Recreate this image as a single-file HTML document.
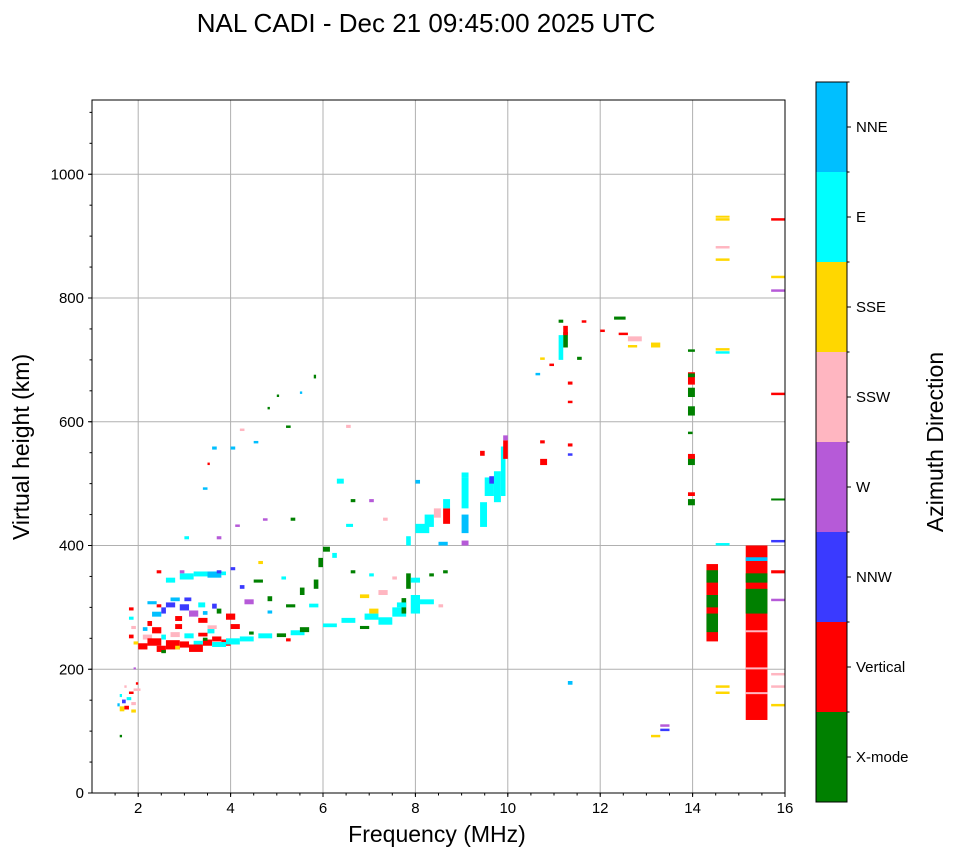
<!DOCTYPE html>
<html><head><meta charset="utf-8"><style>
body{margin:0;background:#fff;}
svg text{font-family:"Liberation Sans","DejaVu Sans",sans-serif;}
</style></head><body>
<svg id="chart" width="958" height="857" viewBox="0 0 958 857">
<text x="426" y="32" font-size="26" text-anchor="middle">NAL CADI - Dec 21 09:45:00 2025 UTC</text>
<g id="grid"></g>
<g id="marks"></g>
<g id="axes"></g>
<text x="437" y="842" font-size="23" text-anchor="middle">Frequency (MHz)</text>
<text transform="translate(29,447) rotate(-90)" font-size="23" text-anchor="middle">Virtual height (km)</text>
<g id="cbar"></g>
<text transform="translate(943,442) rotate(-90)" font-size="23" text-anchor="middle">Azimuth Direction</text>
</svg>
<script>
const directions=["X-mode","Vertical","NNW","W","SSW","SSE","E","NNE"];
const dirColors=["#008000","#ff0000","#3a3aff","#b65ad8","#ffb6c1","#ffd700","#00ffff","#00bfff"];
const xTicks=[2,4,6,8,10,12,14,16];
const yTicks=[0,200,400,600,800,1000];
// echoes: [freq MHz, height km, width MHz, height km span, direction index]
const echoes=[
[1.55,140,0.05,5,7],[1.6,132,0.1,8,5],[1.7,135,0.1,6,1],[1.65,145,0.08,6,2],[1.75,150,0.1,5,6],[1.85,142,0.1,5,4],[1.6,155,0.05,5,6],[1.8,160,0.1,4,1],[1.9,165,0.15,4,4],[1.7,170,0.05,4,4],[1.85,130,0.1,5,5],[1.6,90,0.05,4,0],[1.9,200,0.05,3,3],[1.95,175,0.05,4,1],
[1.8,250,0.1,6,1],[1.85,265,0.1,5,4],[1.8,280,0.1,5,6],[1.8,295,0.1,5,1],[1.9,240,0.1,5,5],
[2.0,232,0.2,10,1],[2.1,248,0.2,8,4],[2.2,238,0.3,12,1],[2.4,228,0.2,10,1],[2.6,232,0.3,15,1],[2.9,235,0.2,10,1],[3.1,228,0.3,12,1],[3.4,238,0.2,10,1],[3.6,245,0.2,8,1],[3.8,238,0.2,10,1],[2.3,258,0.2,10,1],[2.7,252,0.2,8,4],[2.5,248,0.1,8,6],[3.0,250,0.2,8,6],[3.3,253,0.2,6,1],[3.5,258,0.15,8,6],[2.8,265,0.15,8,1],[2.2,270,0.1,8,1],
[2.8,232,0.1,6,5],[2.5,226,0.1,5,0],[3.2,240,0.2,6,6],[3.6,236,0.3,8,6],[3.9,240,0.3,10,6],[3.4,246,0.1,5,0],[2.1,262,0.1,6,7],
[2.3,285,0.2,8,7],[2.5,290,0.1,10,2],[2.6,300,0.2,8,2],[2.9,295,0.2,10,2],[3.1,285,0.2,10,3],[2.8,278,0.15,8,1],[3.3,275,0.2,8,1],[3.5,265,0.2,6,4],[2.7,310,0.2,6,7],[3.0,310,0.15,6,2],[3.3,300,0.15,8,6],[2.2,305,0.2,5,7],[3.6,298,0.1,8,2],[2.4,300,0.1,5,1],[3.4,288,0.1,6,7],
[2.6,340,0.2,8,6],[2.9,345,0.3,10,6],[3.2,350,0.3,8,6],[3.5,348,0.3,10,7],[3.8,352,0.1,6,6],[2.4,355,0.1,5,1],[3.7,355,0.1,5,2],[2.9,355,0.1,5,3],
[3.7,290,0.1,8,0],[3.9,280,0.2,10,1],[4.2,245,0.3,8,6],[4.6,250,0.3,8,6],[5.0,252,0.2,6,0],[5.3,255,0.3,8,6],[5.5,260,0.2,8,0],[5.2,245,0.1,5,1],[4.0,265,0.2,8,1],[4.4,256,0.1,5,0],
[4.3,305,0.2,8,3],[4.2,330,0.1,6,2],[4.0,360,0.1,5,2],[4.5,340,0.2,5,0],[4.8,290,0.1,5,7],[4.8,310,0.1,8,0],[5.2,300,0.2,5,0],[5.5,320,0.1,12,0],[5.7,300,0.2,6,6],[5.8,330,0.1,15,0],[5.9,365,0.1,15,0],[6.0,390,0.15,8,0],[6.2,380,0.1,8,6],[5.1,345,0.1,5,6],[4.6,370,0.1,5,5],
[6.0,268,0.3,6,6],[6.4,275,0.3,8,6],[6.8,265,0.2,5,0],[6.9,280,0.3,10,6],[7.2,272,0.3,12,6],[7.5,285,0.3,15,6],[7.7,290,0.1,25,0],[7.9,290,0.2,30,6],[8.1,305,0.3,8,6],[7.8,330,0.1,25,0],[7.2,320,0.2,8,4],[6.8,315,0.2,6,5],[7.0,290,0.2,8,5],[7.6,300,0.2,8,6],
[6.6,355,0.1,5,0],[7.0,350,0.1,5,6],[7.5,345,0.1,5,4],[7.9,340,0.2,8,6],[8.3,350,0.1,5,0],[8.6,355,0.1,5,0],[8.5,300,0.1,5,4],[6.3,500,0.15,8,6],[6.6,470,0.1,5,0],[7.0,470,0.1,5,3],[6.5,590,0.1,5,4],
[7.8,400,0.1,15,6],[8.0,420,0.3,15,6],[8.2,430,0.2,20,6],[8.4,445,0.15,15,4],[8.6,435,0.15,25,1],[8.6,460,0.15,15,6],[8.5,400,0.2,6,7],[8.0,500,0.1,6,7],
[9.0,400,0.15,8,3],[9.0,420,0.15,30,7],[9.0,460,0.15,50,6],[9.4,430,0.15,40,6],[9.5,480,0.2,30,6],[9.7,470,0.15,50,6],[9.6,500,0.1,12,2],[9.85,480,0.1,80,6],[9.9,540,0.1,30,1],[9.9,570,0.1,8,3],[9.4,545,0.1,8,1],[9.0,510,0.15,8,6],
[10.7,530,0.15,10,1],[10.7,565,0.1,5,1],[10.6,675,0.1,4,7],[10.7,700,0.1,4,5],[10.9,690,0.1,4,1],[11.1,700,0.1,40,6],[11.2,720,0.1,25,0],[11.2,740,0.1,15,1],[11.1,760,0.1,5,0],[11.3,660,0.1,5,1],[11.3,630,0.1,4,1],[11.3,560,0.1,5,1],[11.3,545,0.1,4,2],[11.5,700,0.1,5,0],[11.6,760,0.1,4,1],[11.3,175,0.1,6,7],
[12.0,745,0.1,4,1],[12.3,765,0.25,5,0],[12.4,740,0.2,4,1],[12.6,730,0.3,8,4],[12.6,720,0.2,4,5],[13.1,720,0.2,8,5],[13.1,90,0.2,4,5],[13.3,100,0.2,4,2],[13.3,107,0.2,4,3],
[13.9,465,0.15,10,0],[13.9,480,0.15,6,1],[13.9,530,0.15,15,0],[13.9,540,0.15,8,1],[13.9,580,0.1,4,0],[13.9,610,0.15,15,0],[13.9,640,0.15,15,0],[13.9,660,0.15,20,1],[13.9,672,0.15,6,0],[13.9,713,0.15,4,0],
[14.3,245,0.25,125,1],[14.3,260,0.25,30,0],[14.3,300,0.25,20,0],[14.3,340,0.25,20,0],[14.5,400,0.3,4,6],[14.5,170,0.3,4,5],[14.5,160,0.3,4,5],[14.5,715,0.3,4,5],[14.5,710,0.3,4,6],[14.5,860,0.3,4,5],[14.5,880,0.3,4,4],[14.5,925,0.3,4,5],[14.5,930,0.3,3,5],
[15.15,118,0.47,282,1],[15.15,290,0.47,40,0],[15.15,340,0.47,15,0],[15.15,375,0.47,6,7],[15.15,200,0.47,3,4],[15.15,260,0.47,3,4],[15.15,160,0.47,3,4],
[15.7,140,0.3,4,5],[15.7,170,0.3,4,4],[15.7,190,0.3,4,4],[15.7,310,0.3,4,3],[15.7,355,0.3,5,1],[15.7,405,0.3,4,2],[15.7,473,0.3,3,0],[15.7,643,0.3,4,1],[15.7,810,0.3,4,3],[15.7,832,0.3,4,5],[15.7,925,0.3,4,1],
[3.5,530,0.05,4,1],[3.6,555,0.1,5,7],[3.4,490,0.1,4,7],[4.0,555,0.1,5,7],[4.2,585,0.1,4,4],[4.5,565,0.1,4,7],[4.8,620,0.05,4,0],[5.0,640,0.05,4,0],[5.2,590,0.1,4,0],[5.5,645,0.05,4,7],[5.8,670,0.05,6,0],[5.3,440,0.1,5,0],[4.7,440,0.1,4,3],[4.1,430,0.1,4,3],[3.0,410,0.1,5,6],[3.7,410,0.1,5,3],[6.5,430,0.15,5,6],[7.3,440,0.1,5,4]
];
const X0=92,X1=785,Y0=793,Y1=100;
const xS=f=>X0+(f-1)/15*(X1-X0);
const yS=h=>Y0-h/1120*(Y0-Y1);
const NS="http://www.w3.org/2000/svg";
function mk(tag,attrs,parent){const e=document.createElementNS(NS,tag);for(const k in attrs)e.setAttribute(k,attrs[k]);parent.appendChild(e);return e;}
const grid=document.getElementById('grid'),marks=document.getElementById('marks'),axes=document.getElementById('axes'),cbar=document.getElementById('cbar');
xTicks.forEach(t=>{if(t<16){const l=mk('line',{x1:xS(t),x2:xS(t),y1:Y1,y2:Y0,stroke:'#b0b0b0','stroke-width':1},grid);}});
yTicks.forEach(t=>{const l=mk('line',{x1:X0,x2:X1,y1:yS(t),y2:yS(t),stroke:'#b0b0b0','stroke-width':1},grid);});
echoes.forEach(d=>{const r=mk('rect',{x:xS(d[0]),y:yS(d[1]+d[3]),width:Math.max(2,xS(d[0]+d[2])-xS(d[0])),height:Math.max(2,yS(d[1])-yS(d[1]+d[3])),fill:dirColors[d[4]]},marks);

});
const fr=mk('rect',{x:X0,y:Y1,width:X1-X0,height:Y0-Y1,fill:'none',stroke:'#000','stroke-width':1},axes);

for(let f=1.5;f<16;f+=0.5){mk('line',{x1:xS(f),x2:xS(f),y1:Y0,y2:Y0+2.5,stroke:'#000'},axes);}
for(let h=50;h<1120;h+=50){mk('line',{x1:X0-2.5,x2:X0,y1:yS(h),y2:yS(h),stroke:'#000'},axes);}
xTicks.forEach(t=>{mk('line',{x1:xS(t),x2:xS(t),y1:Y0,y2:Y0+4,stroke:'#000'},axes);const tx=mk('text',{x:xS(t),y:Y0+20,'font-size':15,'text-anchor':'middle'},axes);tx.textContent=t;
});
yTicks.forEach(t=>{mk('line',{x1:X0-4,x2:X0,y1:yS(t),y2:yS(t),stroke:'#000'},axes);const tx=mk('text',{x:X0-8,y:yS(t)+5,'font-size':15,'text-anchor':'end'},axes);tx.textContent=t;
});
const CB0=82,CB1=802,CBX=816,CBW=31,seg=(CB1-CB0)/directions.length;
directions.forEach((d,i)=>{const top=CB1-(i+1)*seg;const r=mk('rect',{x:CBX,y:top,width:CBW,height:seg,fill:dirColors[i]},cbar);

mk('line',{x1:CBX+CBW,x2:CBX+CBW+4,y1:top+seg/2,y2:top+seg/2,stroke:'#000'},cbar);
mk('line',{x1:CBX+CBW,x2:CBX+CBW+2.5,y1:top,y2:top,stroke:'#000'},cbar);
const tx=mk('text',{x:CBX+CBW+9,y:top+seg/2+5,'font-size':15},cbar);tx.textContent=d;
});
mk('rect',{x:CBX,y:CB0,width:CBW,height:CB1-CB0,fill:'none',stroke:'#000'},cbar);
</script>
</body></html>
